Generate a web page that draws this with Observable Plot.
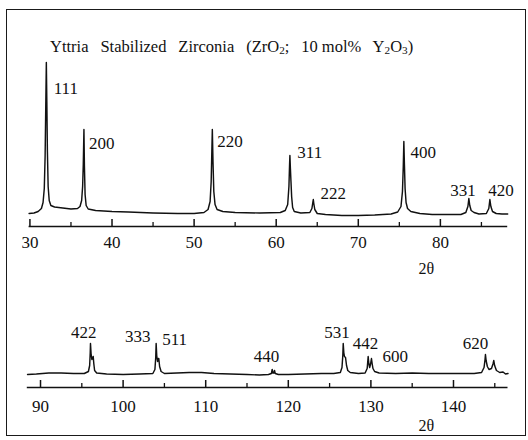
<!DOCTYPE html>
<html>
<head>
<meta charset="utf-8">
<script src="https://cdn.jsdelivr.net/npm/d3@7"></script>
<script src="https://cdn.jsdelivr.net/npm/@observablehq/plot@0.6"></script>
<style>
  html, body { margin: 0; padding: 0; background: #fff; }
  #wrap { position: relative; width: 528px; height: 440px; overflow: hidden; background: #fff; }
  #frame { position: absolute; left: 6px; top: 9px; width: 520px; height: 427px; border: 1.6px solid #1a1a1a; box-sizing: border-box; }
  #title { position: absolute; left: 50px; top: 39px; font-family: "Liberation Serif", "DejaVu Serif", serif; font-size: 16.5px; line-height: 16px; color: #111; word-spacing: 7.8px; white-space: nowrap; }
  #title sub { font-size: 0.68em; vertical-align: -0.22em; line-height: 0; word-spacing: 0; }
  .panel { position: absolute; left: 0; }
</style>
</head>
<body>
<div id="wrap">
  <div id="frame"></div>
  <div id="title">Yttria Stabilized Zirconia (ZrO<sub>2</sub>; 10&#8197;mol% Y<sub>2</sub>O<sub>3</sub>)</div>
  <div id="top" class="panel" style="top:0px"></div>
  <div id="bottom" class="panel" style="top:280px"></div>
</div>
<script>
// ---------- data ----------
const topMajorTicks = [30, 40, 50, 60, 70, 80];
const topMinorTicks = [35, 45, 55, 65, 75, 85];
const bottomMajorTicks = [90, 100, 110, 120, 130, 140];
const bottomMinorTicks = [95, 105, 115, 125, 135, 145];
const axisLabelText = "2θ";

// upper scan, 2θ (deg) and intensity (a.u.)
const topTwoTheta = [29.9, 30.5, 31.0, 31.4, 31.6, 31.75, 31.85, 31.93, 32.0, 32.06, 32.13, 32.22, 32.35, 32.55, 33.0, 34.0, 35.0, 35.8, 36.1, 36.3, 36.42, 36.5, 36.58, 36.64, 36.72, 36.85, 37.1, 38.0, 40.0, 42.0, 45.0, 48.0, 50.0, 51.2, 51.7, 51.95, 52.08, 52.16, 52.22, 52.3, 52.4, 52.55, 52.8, 53.5, 55.0, 58.0, 60.5, 61.1, 61.4, 61.55, 61.63, 61.67, 61.73, 61.8, 61.88, 62.0, 62.2, 63.0, 64.1, 64.35, 64.46, 64.52, 64.58, 64.7, 65.0, 66.0, 68.0, 70.0, 72.0, 74.0, 74.8, 75.2, 75.38, 75.48, 75.55, 75.62, 75.7, 75.82, 76.0, 76.4, 77.5, 79.0, 81.0, 82.5, 83.1, 83.35, 83.47, 83.58, 83.75, 84.1, 84.7, 85.6, 85.9, 86.03, 86.15, 86.35, 86.8, 87.5, 88.2];
const topIntensity = [13, 13.5, 15, 18, 24, 38, 70, 120, 164, 125, 75, 40, 26, 21, 19.5, 18.5, 17.5, 18, 20, 26, 40, 62, 97, 60, 32, 21, 17.5, 16, 15, 14.5, 13.5, 13, 13, 14, 17, 25, 45, 75, 97, 65, 35, 22, 17, 15, 14, 13.5, 14, 16, 22, 40, 62, 71, 58, 45, 30, 19, 15, 13.5, 14, 18, 24, 27, 23, 17, 13, 12, 11, 11, 11.5, 12.5, 14.5, 20, 35, 60, 85, 62, 38, 24, 18, 15, 13, 12, 12, 12, 14, 20, 28, 21, 16, 14, 12.5, 13, 18, 27, 20, 15, 13, 12.5, 12.5];

// lower scan
const bottomTwoTheta = [88.43, 89.5, 91.0, 92.5, 94.0, 95.3, 95.8, 95.95, 96.02, 96.05, 96.12, 96.22, 96.32, 96.38, 96.45, 96.55, 96.8, 98.0, 100.0, 102.0, 103.6, 103.85, 103.95, 104.0, 104.07, 104.17, 104.27, 104.32, 104.42, 104.6, 105.0, 106.5, 108.0, 109.5, 111.0, 113.0, 115.0, 116.5, 117.6, 117.95, 118.05, 118.13, 118.25, 118.33, 118.42, 118.8, 120.0, 122.0, 124.0, 125.5, 126.3, 126.5, 126.6, 126.65, 126.72, 126.8, 126.93, 127.05, 127.2, 127.5, 128.5, 129.3, 129.55, 129.62, 129.67, 129.75, 129.85, 129.95, 130.07, 130.15, 130.25, 130.45, 131.0, 133.0, 135.0, 137.0, 139.0, 141.0, 142.5, 143.4, 143.7, 143.82, 143.87, 143.95, 144.1, 144.3, 144.6, 144.8, 144.88, 144.98, 145.2, 145.6, 146.0, 146.3, 146.6];
const bottomIntensity = [13, 13.5, 14.5, 14.5, 14, 14, 16, 22, 35, 44, 34, 28, 30, 31, 24, 17, 14.5, 13.5, 13, 13.5, 14, 18, 30, 44, 32, 26, 29, 29, 21, 16, 14, 14.5, 15, 15, 14, 13.5, 13, 12.5, 13, 14, 18, 14.5, 14.5, 17, 14, 13, 13, 13.5, 14, 14, 15, 20, 32, 44, 35, 31, 30, 22, 17, 15, 14, 14.5, 19, 26, 31, 24, 20, 23, 29, 24, 19, 16, 14.5, 14, 14.5, 14, 14, 14, 14, 15, 20, 28, 33, 27, 21, 18, 19, 24, 27, 22, 17, 15, 15.5, 13.5, 14];

// reflections (hkl), their 2θ and peak intensity
const topPeakLabels = ["111", "200", "220", "311", "222", "400", "331", "420"];
const topPeakTwoTheta = [32.0, 36.58, 52.22, 61.67, 64.52, 75.55, 83.47, 86.03];
const topPeakIntensity = [164, 97, 97, 71, 27, 85, 28, 27];
const bottomPeakLabels = ["422", "333", "511", "440", "531", "442", "600", "620"];
const bottomPeakTwoTheta = [96.05, 104.0, 104.0, 118.05, 126.65, 129.67, 129.67, 143.87];
const bottomPeakIntensity = [44, 44, 44, 18, 44, 31, 31, 33];

// ---------- styling / layout ----------
const FONT = '"Liberation Serif", "DejaVu Serif", serif';
const INK = "#111";
// label placement relative to the peak top: [dx, dy, textAnchor]
const topNudge = {
  "111": [7.3, 26, "start"], "200": [5, 14, "start"], "220": [5, 12, "start"],
  "311": [7.4, -3, "start"], "222": [7.3, -6, "start"], "400": [6.7, 11, "start"],
  "331": [-5.8, -8, "middle"], "420": [11, -9, "middle"]
};
const bottomNudge = {
  "422": [-6.7, -11, "middle"], "333": [-5.7, -7, "end"], "511": [6, -4, "start"],
  "440": [-5.7, -13, "middle"], "531": [-6.2, -11, "middle"], "442": [-2.7, -13, "middle"],
  "600": [14.3, 0, "start"], "620": [-10, -11, "middle"]
};

function panel(cfg) {
  const {twoTheta, intensity, domain, marginLeft, marginRight, marginTop, marginBottom, height,
         yMax, major, minor, labels, labelPos, labelI, nudge, tickPadding, axisLabelAt, axisLabelDy} = cfg;
  const frameH = height - marginTop - marginBottom;
  const trace = twoTheta.map((t, i) => ({t, I: intensity[i]}));
  const peaks = labels.map((l, i) => ({l, t: labelPos[i], I: labelI[i]}));
  const marks = [
    Plot.line(trace, {x: "t", y: "I", stroke: INK, strokeWidth: 1.45, strokeLinejoin: "round"}),
    Plot.ruleY([0], {stroke: INK, strokeWidth: 1.6}),
    Plot.ruleX(major, {x: d => d, stroke: INK, strokeWidth: 1.5, insetTop: frameH - 7}),
    Plot.ruleX(minor, {x: d => d, stroke: INK, strokeWidth: 1.3, insetTop: frameH - 4}),
    Plot.axisX(major, {tickSize: 0, tickPadding, fontSize: 17, fontFamily: FONT, fill: INK, label: null, tickFormat: d => String(d)}),
    Plot.text([axisLabelText], {x: () => axisLabelAt, text: d => d, frameAnchor: "bottom", dy: axisLabelDy, lineAnchor: "middle", fontSize: 16, fontFamily: FONT, fill: INK})
  ];
  for (const p of peaks) {
    const [dx, dy, anchor] = nudge[p.l];
    marks.push(Plot.text([p], {x: "t", y: "I", text: "l", dx, dy, textAnchor: anchor, lineAnchor: "middle", fontSize: 17, fontFamily: FONT, fill: INK}));
  }
  return Plot.plot({
    width: 528, height, marginLeft, marginRight, marginTop, marginBottom,
    x: {domain, axis: null},
    y: {domain: [0, yMax], axis: null},
    style: {fontFamily: FONT, fontSize: "17px", color: INK, background: "transparent", overflow: "visible"},
    marks
  });
}

document.getElementById("top").append(panel({
  twoTheta: topTwoTheta, intensity: topIntensity, domain: [29.9, 88.2],
  marginLeft: 28.6, marginRight: 20.8, marginTop: 40, marginBottom: 54, height: 280, yMax: 186,
  major: topMajorTicks, minor: topMinorTicks,
  labels: topPeakLabels, labelPos: topPeakTwoTheta, labelI: topPeakIntensity, nudge: topNudge,
  tickPadding: 9, axisLabelAt: 78.3, axisLabelDy: 42
}));
document.getElementById("bottom").append(panel({
  twoTheta: bottomTwoTheta, intensity: bottomIntensity, domain: [88.4, 146.6],
  marginLeft: 26.8, marginRight: 20.5, marginTop: 40, marginBottom: 53, height: 160, yMax: 67,
  major: bottomMajorTicks, minor: bottomMinorTicks,
  labels: bottomPeakLabels, labelPos: bottomPeakTwoTheta, labelI: bottomPeakIntensity, nudge: bottomNudge,
  tickPadding: 12.5, axisLabelAt: 136.7, axisLabelDy: 38.5
}));
</script>
</body>
</html>
